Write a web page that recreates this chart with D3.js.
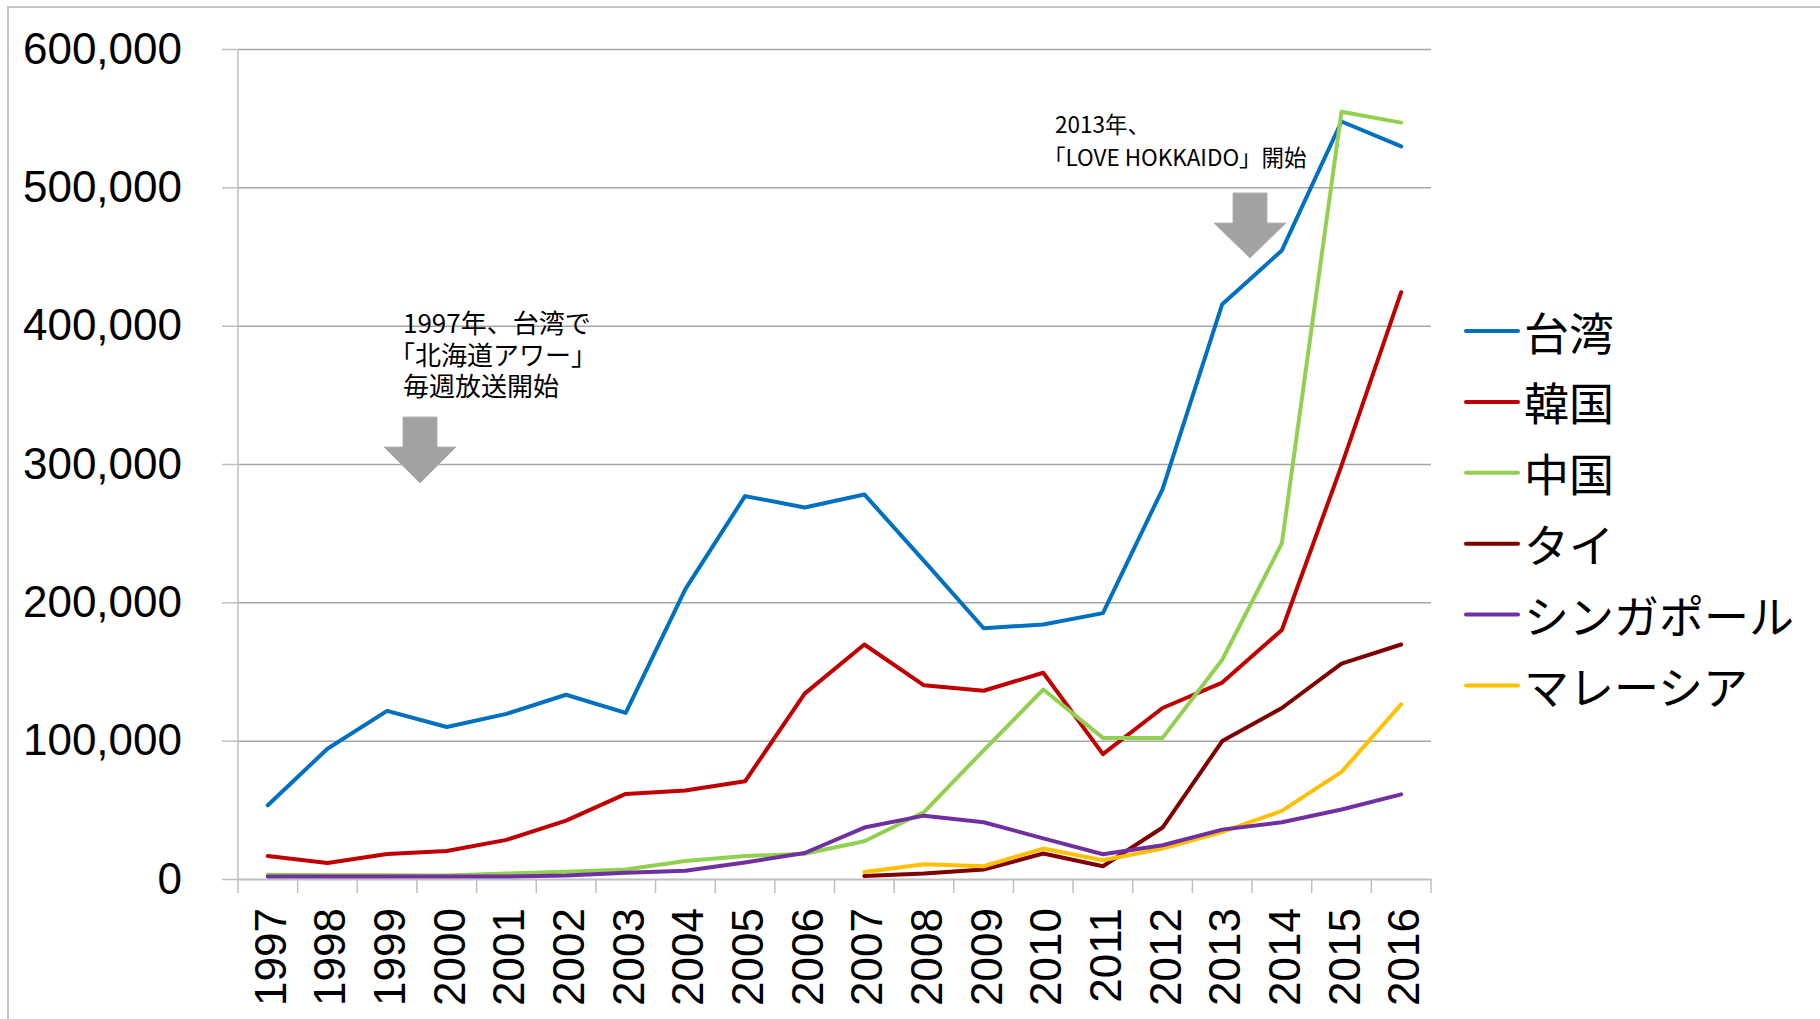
<!DOCTYPE html>
<html>
<head>
<meta charset="utf-8">
<script src="https://cdn.jsdelivr.net/npm/d3@7"></script>
<style>
  body { margin: 0; background: #fff; }
  svg { display: block; }
</style>
</head>
<body>
<svg id="chart" width="1820" height="1019"></svg>
<script>
// data
var years = ["1997","1998","1999","2000","2001","2002","2003","2004","2005","2006",
             "2007","2008","2009","2010","2011","2012","2013","2014","2015","2016"];
var taiwan    = [53300, 94200, 121500, 109900, 119400, 133200, 120100, 209500, 276800, 268600,
                 278000, 230000, 181300, 184000, 192200, 281900, 415500, 454400, 547600, 529600];
var korea     = [16600, 11600, 18100, 20300, 28300, 42200, 61500, 64000, 70600, 134000,
                 169500, 140000, 136100, 149100, 90300, 123600, 142000, 180000, 298800, 424200];
var china     = [3000, 2800, 2700, 2600, 4000, 5200, 6800, 13000, 16600, 18200,
                 27300, 48400, 93000, 137000, 102000, 102000, 158500, 242700, 554700, 546800];
var thailand  = [null, null, null, null, null, null, null, null, null, null,
                 2200, 3900, 6800, 18400, 9200, 37200, 99700, 123600, 155700, 169500];
var singapore = [1800, 1800, 1800, 1800, 1800, 2500, 4600, 6000, 12000, 18800,
                 37200, 45800, 41000, 29400, 17900, 24400, 35700, 41000, 50200, 61200];
var malaysia  = [null, null, null, null, null, null, null, null, null, null,
                 5000, 10600, 9200, 22000, 13500, 22000, 34000, 49200, 77400, 126300];

var seriesNames  = ["台湾", "韓国", "中国", "タイ", "シンガポール", "マレーシア"];
var seriesValues = [taiwan, korea, china, thailand, singapore, malaysia];
var seriesColors = ["#0070C0", "#C00000", "#92D050", "#7F0000", "#7030A0", "#FFC000"];
// draw order (last on top)
var drawOrder = [0, 1, 2, 3, 5, 4];

var yTicks = [0, 100000, 200000, 300000, 400000, 500000, 600000];

var svg = d3.select("#chart");
var plotLeft = 238, plotRight = 1431, plotTop = 49, plotBottom = 879;

var x = d3.scaleBand().domain(years).range([plotLeft, plotRight]).paddingInner(0).paddingOuter(0);
var y = d3.scaleLinear().domain([0, 600000]).range([plotBottom, plotTop]);

// chart area border (only top and left visible)
svg.append("path")
  .attr("d", "M8,1019 L8,7 L1820,7")
  .attr("fill", "none")
  .attr("stroke", "#c4c4c4")
  .attr("stroke-width", 2);

// gridlines
svg.append("g")
  .attr("transform", "translate(" + plotLeft + ",0)")
  .call(d3.axisLeft(y).tickValues(yTicks).tickSize(-(plotRight - plotLeft)).tickFormat(""))
  .call(function(g){
    g.select(".domain").remove();
    g.selectAll("line").attr("stroke", "#a6a6a6").attr("stroke-width", 1.5);
  });

// y axis
svg.append("g")
  .attr("transform", "translate(" + plotLeft + ",0)")
  .call(d3.axisLeft(y).tickValues(yTicks).tickSize(16).tickPadding(40).tickFormat(d3.format(",")))
  .call(function(g){
    g.select(".domain").attr("stroke", "#bfbfbf").attr("stroke-width", 1.5)
      .attr("d", "M0," + plotTop + "V" + plotBottom);
    g.selectAll("line").attr("stroke", "#bfbfbf").attr("stroke-width", 1.5);
    g.selectAll("text")
      .attr("fill", "#000")
      .style("font-family", "'Liberation Sans', Arial, sans-serif")
      .style("font-size", "44px");
  });

// x axis
var xAxis = svg.append("g")
  .attr("transform", "translate(0," + plotBottom + ")")
  .call(d3.axisBottom(x).tickSize(0).tickSizeOuter(0));
xAxis.select(".domain").attr("stroke", "#bfbfbf").attr("stroke-width", 1.5);
xAxis.selectAll("text")
  .attr("x", 0).attr("y", 0).attr("dy", 0)
  .attr("transform", "translate(18,29) rotate(-90)")
  .attr("text-anchor", "end")
  .attr("fill", "#000")
  .style("font-family", "'Liberation Sans', Arial, sans-serif")
  .style("font-size", "44px");
var bounds = years.map(function(d){ return x(d); }).concat([plotRight]);
xAxis.selectAll(".bound").data(bounds).enter().append("line")
  .attr("class", "bound")
  .attr("x1", function(d){ return d; }).attr("x2", function(d){ return d; })
  .attr("y1", 0).attr("y2", 14)
  .attr("stroke", "#bfbfbf").attr("stroke-width", 1.5);

// lines
var line = d3.line()
  .defined(function(d){ return d != null; })
  .x(function(d, i){ return x(years[i]) + x.bandwidth() / 2; })
  .y(function(d){ return y(d); });

drawOrder.forEach(function(k){
  svg.append("path")
    .datum(seriesValues[k])
    .attr("d", line)
    .attr("fill", "none")
    .attr("stroke", seriesColors[k])
    .attr("stroke-width", 4)
    .attr("stroke-linejoin", "round")
    .attr("stroke-linecap", "round");
});

// annotations
var jp = "'Noto Sans CJK JP', sans-serif";
function arrow(cx, yTop, yHead, yTip) {
  return "M" + (cx - 17) + "," + yTop + " L" + (cx + 17) + "," + yTop +
    " L" + (cx + 17) + "," + yHead + " L" + (cx + 36) + "," + yHead +
    " L" + cx + "," + yTip + " L" + (cx - 36) + "," + yHead +
    " L" + (cx - 17) + "," + yHead + " Z";
}
svg.append("path").attr("d", arrow(420, 417, 447, 483))
  .attr("fill", "#a2a2a2").attr("stroke", "#b4b4b4").attr("stroke-width", 1);
svg.append("path").attr("d", arrow(1250, 193, 223, 258))
  .attr("fill", "#a2a2a2").attr("stroke", "#b4b4b4").attr("stroke-width", 1);

var note1 = ["1997年、台湾で", "「北海道アワー」", "毎週放送開始"];
svg.append("g").selectAll("text").data(note1).enter().append("text")
  .attr("x", function(d){ return d.charAt(0) === "「" ? 389 : 403; })
  .attr("y", function(d, i){ return 333 + i * 31.5; })
  .style("font-family", jp).style("font-size", "26px").attr("fill", "#000")
  .text(function(d){ return d; });

var note2 = ["2013年、", "「LOVE HOKKAIDO」開始"];
svg.append("g").selectAll("text").data(note2).enter().append("text")
  .attr("x", function(d){ return d.charAt(0) === "「" ? 1043 : 1055; })
  .attr("y", function(d, i){ return 133 + i * 33; })
  .style("font-family", jp).style("font-size", "22.5px").attr("fill", "#000")
  .text(function(d){ return d; });

// legend
var legend = svg.append("g").attr("transform", "translate(1465,331)");
var item = legend.selectAll("g").data(seriesNames).enter().append("g")
  .attr("transform", function(d, i){ return "translate(0," + (i * 70.9) + ")"; });
item.append("line")
  .attr("x1", 1).attr("x2", 53).attr("y1", 0).attr("y2", 0)
  .attr("stroke", function(d, i){ return seriesColors[i]; })
  .attr("stroke-width", 4).attr("stroke-linecap", "round");
item.append("text")
  .attr("x", 59).attr("y", 0)
  .attr("dominant-baseline", "central")
  .style("font-family", jp).style("font-size", "45px").attr("fill", "#000")
  .text(function(d){ return d; });
</script>
</body>
</html>
